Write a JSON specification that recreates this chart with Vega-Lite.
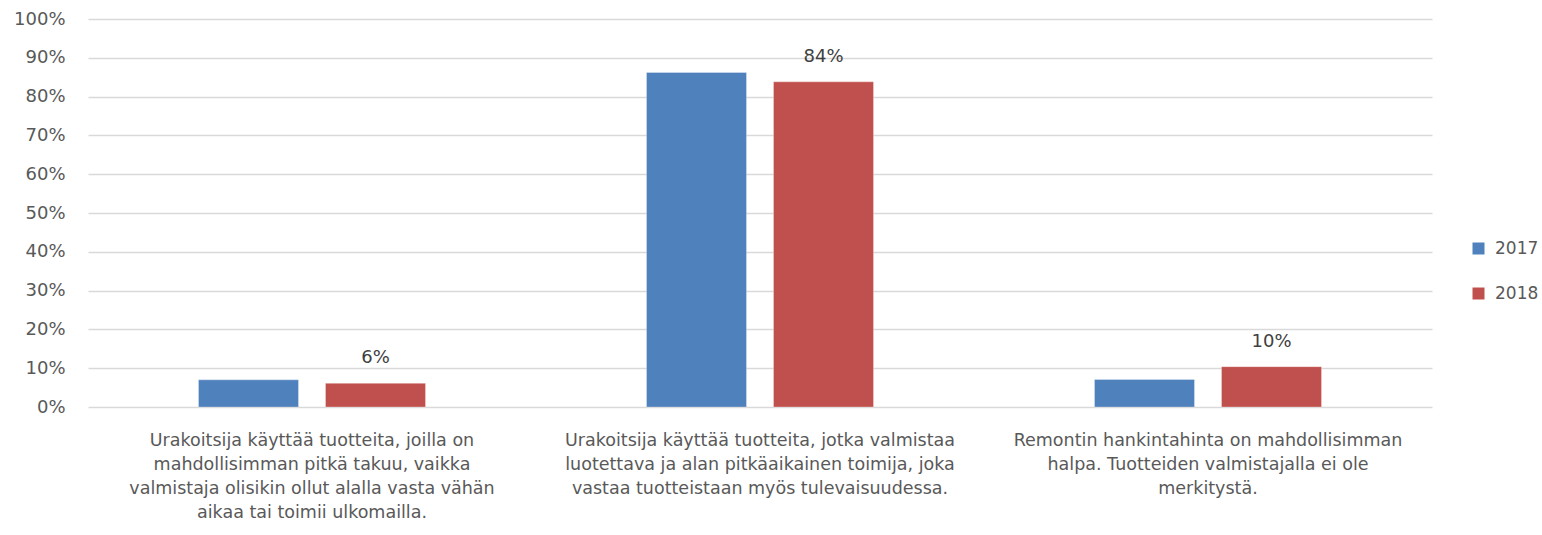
{
  "$schema": "https://vega.github.io/schema/vega-lite/v6.json",
  "width": 1344,
  "height": 388,
  "autosize": {"type": "none"},
  "padding": {"left": 88, "top": 19, "right": 110, "bottom": 128},
  "background": "white",
  "config": {
    "view": {"stroke": null},
    "font": "DejaVu Sans"
  },
  "data": {
    "values": [
      {"kategoria": "Urakoitsija käyttää tuotteita, joilla on mahdollisimman pitkä takuu, vaikka valmistaja olisikin ollut alalla vasta vähän aikaa tai toimii ulkomailla.", "vuosi": "2017", "osuus": 0.07},
      {"kategoria": "Urakoitsija käyttää tuotteita, joilla on mahdollisimman pitkä takuu, vaikka valmistaja olisikin ollut alalla vasta vähän aikaa tai toimii ulkomailla.", "vuosi": "2018", "osuus": 0.061},
      {"kategoria": "Urakoitsija käyttää tuotteita, jotka valmistaa luotettava ja alan pitkäaikainen toimija, joka vastaa tuotteistaan myös tulevaisuudessa.", "vuosi": "2017", "osuus": 0.862},
      {"kategoria": "Urakoitsija käyttää tuotteita, jotka valmistaa luotettava ja alan pitkäaikainen toimija, joka vastaa tuotteistaan myös tulevaisuudessa.", "vuosi": "2018", "osuus": 0.838},
      {"kategoria": "Remontin hankintahinta on mahdollisimman halpa. Tuotteiden valmistajalla ei ole merkitystä.", "vuosi": "2017", "osuus": 0.071},
      {"kategoria": "Remontin hankintahinta on mahdollisimman halpa. Tuotteiden valmistajalla ei ole merkitystä.", "vuosi": "2018", "osuus": 0.104}
    ]
  },
  "encoding": {
    "x": {
      "field": "kategoria",
      "type": "nominal",
      "sort": null,
      "title": null,
      "scale": {"paddingInner": 0, "paddingOuter": 0},
      "axis": {
        "labelAngle": 0,
        "domain": false,
        "ticks": false,
        "labelPadding": 24,
        "labelLineHeight": 24,
        "labelLimit": 0,
        "labelFontSize": 17.5,
        "labelFont": "DejaVu Sans",
        "labelColor": "#595959",
        "labelOverlap": false,
        "labelExpr": "{'Urakoitsija käyttää tuotteita, joilla on mahdollisimman pitkä takuu, vaikka valmistaja olisikin ollut alalla vasta vähän aikaa tai toimii ulkomailla.': ['Urakoitsija käyttää tuotteita, joilla on', 'mahdollisimman pitkä takuu, vaikka', 'valmistaja olisikin ollut alalla vasta vähän', 'aikaa tai toimii ulkomailla.'], 'Urakoitsija käyttää tuotteita, jotka valmistaa luotettava ja alan pitkäaikainen toimija, joka vastaa tuotteistaan myös tulevaisuudessa.': ['Urakoitsija käyttää tuotteita, jotka valmistaa', 'luotettava ja alan pitkäaikainen toimija, joka', 'vastaa tuotteistaan myös tulevaisuudessa.'], 'Remontin hankintahinta on mahdollisimman halpa. Tuotteiden valmistajalla ei ole merkitystä.': ['Remontin hankintahinta on mahdollisimman', 'halpa. Tuotteiden valmistajalla ei ole', 'merkitystä.']}[datum.value]"
      }
    },
    "xOffset": {
      "field": "vuosi",
      "type": "nominal",
      "scale": {"paddingInner": 0.2126, "paddingOuter": 0.87}
    },
    "y": {
      "field": "osuus",
      "type": "quantitative",
      "title": null,
      "scale": {"domain": [0, 1], "nice": false},
      "axis": {
        "format": ".0%",
        "tickCount": 20,
        "tickMinStep": 0.1,
        "domain": false,
        "ticks": false,
        "labelPadding": 23,
        "labelOverlap": false,
        "labelFontSize": 18,
        "labelFont": "DejaVu Sans",
        "labelColor": "#595959",
        "gridColor": "#D9D9D9",
        "gridWidth": 1.3
      }
    }
  },
  "layer": [
    {
      "mark": {"type": "bar", "stroke": "white", "strokeOpacity": 0.3, "strokeWidth": 1},
      "encoding": {
        "color": {
          "field": "vuosi",
          "type": "nominal",
          "title": null,
          "scale": {"domain": ["2017", "2018"], "range": ["#4F81BD", "#C0504D"]},
          "legend": {
            "orient": "none",
            "legendX": 1382,
            "legendY": 221,
            "symbolType": "square",
            "symbolSize": 144,
            "symbolStrokeWidth": 0,
            "rowPadding": 27,
            "labelOffset": 8,
            "labelFontSize": 17,
            "labelFont": "DejaVu Sans",
            "labelColor": "#595959"
          }
        }
      }
    },
    {
      "transform": [{"filter": "datum.vuosi == '2018'"}],
      "mark": {"type": "text", "baseline": "bottom", "dy": -16, "fontSize": 18, "color": "#404040", "font": "DejaVu Sans"},
      "encoding": {
        "text": {"field": "osuus", "type": "quantitative", "format": ".0%"}
      }
    }
  ]
}
